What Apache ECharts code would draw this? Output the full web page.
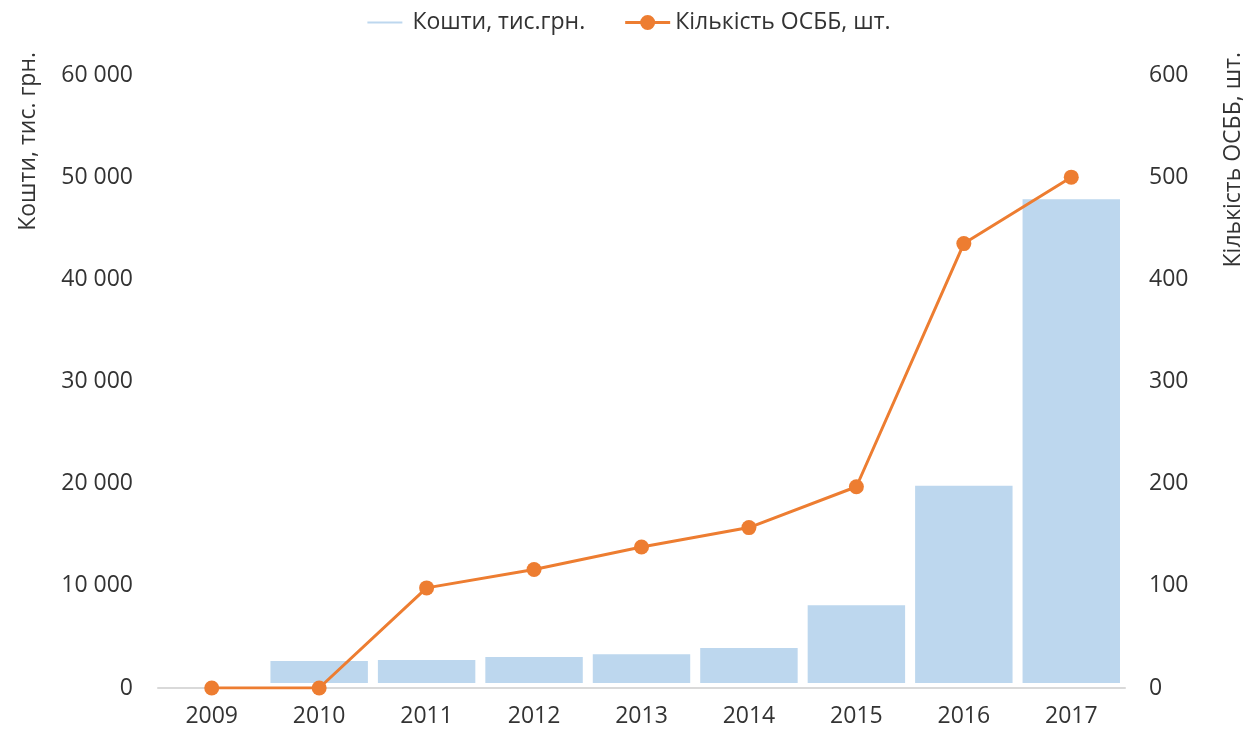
<!DOCTYPE html>
<html>
<head>
<meta charset="utf-8">
<script src="https://cdn.jsdelivr.net/npm/echarts@6/dist/echarts.min.js"></script>
<style>html,body{margin:0;padding:0;background:#fff;}#c{width:1252px;height:735px;}</style>
</head>
<body>
<div id="c"></div>
<script>
const years = ['2009','2010','2011','2012','2013','2014','2015','2016','2017'];
const funds = [null, 3130, 3230, 3520, 3790, 4400, 8580, 20290, 48320];
const osbb = [0, 0, 98, 116, 138, 157, 197, 435, 500];
const fundsName = 'Кошти, тис.грн.';
const osbbName = 'Кількість ОСББ, шт.';
const leftTitle = 'Кошти, тис. грн.';
const rightTitle = 'Кількість ОСББ, шт.';

const FONT = '"Open Sans", sans-serif';
const TXT = '#333333';
const FS = 23;
const fmt = v => String(v).replace(/\B(?=(\d{3})+(?!\d))/g, ' ');

const chart = echarts.init(document.getElementById('c'), null, {renderer: 'canvas'});
chart.setOption({
  animation: false,
  backgroundColor: '#ffffff',
  textStyle: {fontFamily: FONT},
  grid: {left: 158, right: 127, top: 75, bottom: 47, containLabel: false},
  legend: {
    top: 6,
    left: 'center',
    itemWidth: 45,
    itemHeight: 17,
    itemGap: 40,
    textStyle: {fontFamily: FONT, fontSize: FS, color: TXT},
    data: [
      {name: fundsName, icon: 'path://M4,6.5h37v4h-37z M0,0h0.01v0.01z M45,17h0.01v0.01z'},
      {name: osbbName, icon: 'path://M0,7h45v3h-45z M15,8.5a7.5,7.5 0 1,1 15,0a7.5,7.5 0 1,1 -15,0z M0,0h0.01v0.01z M45,17h0.01v0.01z'}
    ]
  },
  xAxis: {
    type: 'category',
    data: years,
    boundaryGap: true,
    z: 3,
    axisTick: {show: false},
    axisLine: {lineStyle: {color: '#d9d9d9', width: 2}},
    axisLabel: {fontFamily: FONT, fontSize: FS, color: TXT, margin: 17}
  },
  yAxis: [
    {
      type: 'value', min: 0, max: 60000, interval: 10000,
      splitLine: {show: false}, axisLine: {show: false}, axisTick: {show: false},
      axisLabel: {fontFamily: FONT, fontSize: FS, color: TXT, margin: 25, formatter: fmt}
    },
    {
      type: 'value', min: 0, max: 600, interval: 100, position: 'right',
      splitLine: {show: false}, axisLine: {show: false}, axisTick: {show: false},
      axisLabel: {fontFamily: FONT, fontSize: FS, color: TXT, margin: 24, formatter: fmt}
    }
  ],
  graphic: [
    {type: 'text', x: 28, y: 52, rotation: Math.PI / 2,
     style: {text: leftTitle, align: 'right', verticalAlign: 'middle', fontFamily: FONT, fontSize: FS, fill: TXT}},
    {type: 'text', x: 1233, y: 52, rotation: Math.PI / 2,
     style: {text: rightTitle, align: 'right', verticalAlign: 'middle', fontFamily: FONT, fontSize: FS, fill: TXT}}
  ],
  series: [
    {
      name: fundsName, type: 'bar', yAxisIndex: 0, data: funds,
      barCategoryGap: '0%',
      itemStyle: {color: '#BDD7EE', borderColor: '#ffffff', borderWidth: 5}
    },
    {
      name: osbbName, type: 'line', yAxisIndex: 1, data: osbb, z: 5,
      symbol: 'circle', symbolSize: 15,
      lineStyle: {color: '#ED7D31', width: 3},
      itemStyle: {color: '#ED7D31'}
    }
  ]
});
</script>
</body>
</html>
